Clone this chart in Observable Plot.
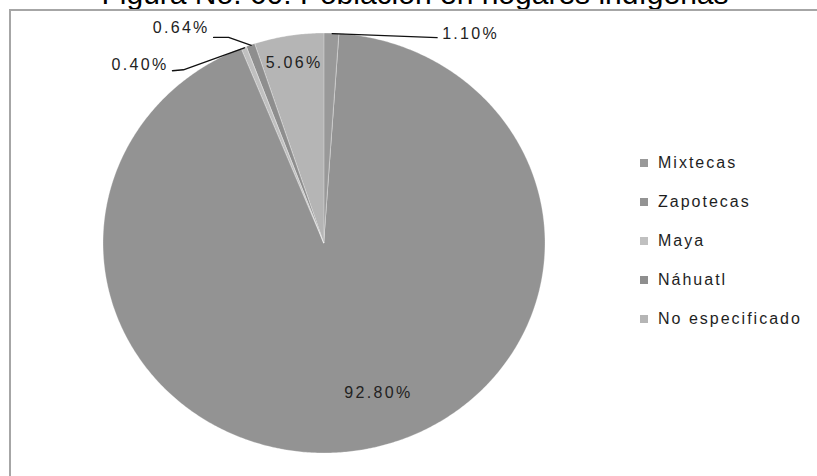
<!DOCTYPE html>
<html>
<head>
<meta charset="utf-8">
<script src="https://cdn.jsdelivr.net/npm/d3@7"></script>
<script src="https://cdn.jsdelivr.net/npm/@observablehq/plot@0.6"></script>
<style>
  body { margin: 0; background: #fff; overflow: hidden; }
  #wrap { position: relative; width: 817px; height: 476px; overflow: hidden; font-family: "Liberation Sans", Arial, sans-serif; }
  #title { position: absolute; left: 0; width: 830px; top: -24px; text-align: center; font-size: 30px; line-height: 36px; color: #000; white-space: nowrap; }
  #chart { position: absolute; left: 0; top: 0; }
  #chart text { letter-spacing: 2.3px; }
  #frame { position: absolute; left: 9px; top: 9px; width: 830px; height: 500px; border-left: 2px solid #a6a6a6; border-top: 2px solid #a6a6a6; pointer-events: none; }
  #legend { position: absolute; left: 640px; top: 144px; font-size: 16px; color: #1e1e1e; letter-spacing: 2px; }
  #legend .row { display: flex; align-items: center; height: 38.8px; white-space: nowrap; }
  #legend .sw { width: 8px; height: 8px; margin-right: 10px; }
</style>
</head>
<body>
<div id="wrap">
  <div id="title"></div>
  <div id="chart"></div>
  <div id="legend"></div>
  <div id="frame"></div>
</div>
<script>
// ---- data ----
const title = "Figura No. 60: Población en hogares indígenas";
const categories = ["Mixtecas", "Zapotecas", "Maya", "Náhuatl", "No especificado"];
const values = [1.10, 92.80, 0.40, 0.64, 5.06];
const labels = ["1.10%", "92.80%", "0.40%", "0.64%", "5.06%"];
const palette = ["#999999", "#939393", "#c0c0c0", "#8e8e8e", "#b5b5b5"];

// ---- layout ----
const W = 817, H = 476, cx = 324, cy = 243, rx = 221, ry = 210;

document.getElementById("title").textContent = title;

const arcs = d3.pie().sort(null).value(d => d)(values);
const mid = arcs.map(a => (a.startAngle + a.endAngle) / 2);

const wedge = arcs.flatMap((a, i) => {
  const n = Math.max(2, Math.ceil((a.endAngle - a.startAngle) / (Math.PI / 360)));
  return d3.range(n + 1).map(k => {
    const t = a.startAngle + (a.endAngle - a.startAngle) * k / n;
    return {cat: categories[i], x: Math.sin(t), y: Math.cos(t)};
  });
});

// label placement (pixel offsets from the slice's edge point)
const inside = {"Zapotecas": {r: 0.72, dx: 29}, "No especificado": {r: 0.87, dx: 0}};
const outside = {
  "Mixtecas": {path: [[105, 4]], label: [110, 0], anchor: "start"},
  "Maya": {path: [[-61, 22], [-72, 23]], label: [-76, 17], anchor: "end"},
  "Náhuatl": {path: [[-22.6, -8], [-37.6, -8]], label: [-41.6, -18], anchor: "end"}
};

const inLabels = [], leaderRows = [], outStart = [], outEnd = [];
categories.forEach((c, i) => {
  const ex = Math.sin(mid[i]), ey = Math.cos(mid[i]);
  if (inside[c]) {
    inLabels.push({text: labels[i], x: ex * inside[c].r, y: ey * inside[c].r, dx: inside[c].dx});
  }
  const L = outside[c];
  if (L) {
    leaderRows.push({cat: c, x: ex, y: ey});
    L.path.forEach(([dx, dy]) => leaderRows.push({cat: c, x: ex + dx / rx, y: ey - dy / ry}));
    const row = {text: labels[i], x: ex + L.label[0] / rx, y: ey - L.label[1] / ry};
    (L.anchor === "start" ? outStart : outEnd).push(row);
  }
});

const chart = Plot.plot({
  width: W, height: H, margin: 0,
  x: {domain: [-1, 1], range: [cx - rx, cx + rx], axis: null},
  y: {domain: [-1, 1], range: [cy + ry, cy - ry], axis: null},
  color: {domain: categories, range: palette},
  style: {fontFamily: '"Liberation Sans", Arial, sans-serif', background: "transparent"},
  marks: [
    Plot.area(wedge, {x1: 0, y1: 0, x2: "x", y2: "y", z: "cat", fill: "cat", stroke: "#ffffff", strokeOpacity: 0.3, strokeWidth: 1, curve: "linear"}),
    Plot.line(leaderRows, {x: "x", y: "y", z: "cat", stroke: "#111", strokeWidth: 1.3}),
    Plot.text(inLabels.slice(0, 1), {x: "x", y: "y", text: "text", dx: inLabels[0].dx, fontSize: 16, fill: "#222"}),
    Plot.text(inLabels.slice(1), {x: "x", y: "y", text: "text", fontSize: 16, fill: "#222"}),
    Plot.text(outStart, {x: "x", y: "y", text: "text", textAnchor: "start", fontSize: 16, fill: "#222"}),
    Plot.text(outEnd, {x: "x", y: "y", text: "text", textAnchor: "end", fontSize: 16, fill: "#222"})
  ]
});
document.getElementById("chart").appendChild(chart);

// legend
const legend = document.getElementById("legend");
const colorOf = d3.scaleOrdinal(categories, palette);
categories.forEach(c => {
  const row = document.createElement("div");
  row.className = "row";
  const sw = document.createElement("span");
  sw.className = "sw";
  sw.style.background = colorOf(c);
  const tx = document.createElement("span");
  tx.textContent = c;
  row.appendChild(sw);
  row.appendChild(tx);
  legend.appendChild(row);
});
</script>
</body>
</html>
